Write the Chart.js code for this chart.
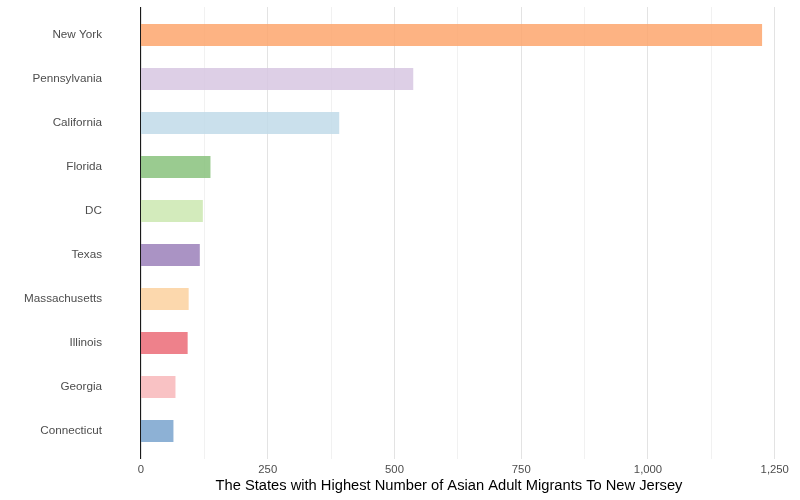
<!DOCTYPE html>
<html>
<head>
<meta charset="utf-8">
<script src="https://cdn.jsdelivr.net/npm/chart.js@4"></script>
<style>
  html, body { margin: 0; padding: 0; background: #ffffff; }
  #wrap { width: 800px; height: 500px; position: relative; }
</style>
</head>
<body>
<div id="wrap"><canvas id="c"></canvas></div>
<script>
const states = ["New York", "Pennsylvania", "California", "Florida", "DC", "Texas", "Massachusetts", "Illinois", "Georgia", "Connecticut"];
const migrants = [1225, 537, 391, 137, 122, 116, 94, 92, 68, 64];
const barColors = [
  "rgba(253,166,109,0.85)",
  "rgba(215,199,226,0.85)",
  "rgba(193,219,233,0.85)",
  "rgba(136,194,125,0.85)",
  "rgba(203,231,176,0.85)",
  "rgba(155,128,186,0.85)",
  "rgba(252,209,159,0.85)",
  "rgba(235,107,119,0.85)",
  "rgba(248,183,186,0.85)",
  "rgba(121,163,206,0.85)"
];
const xTitle = "The States with Highest Number of Asian Adult Migrants To New Jersey";

const MAJOR = '#e3e3e3', MINOR = '#f1f1f1';
const gridColor = (v) => (v % 250 === 0 ? MAJOR : MINOR);

// the panel (grid lines + y axis line) is drawn over the full panel height, like ggplot's expanded panel
const panelPlugin = {
  id: 'panelExt',
  beforeDatasetsDraw(chart) {
    const ctx = chart.ctx, ca = chart.chartArea, xs = chart.scales.x;
    const ext = 6;
    const dpr = chart.currentDevicePixelRatio || 1;
    ctx.save();
    ctx.lineWidth = 1;
    xs.ticks.forEach(t => {
      const p = xs.getPixelForValue(t.value);
      const px = Math.round((p - 0.5) * dpr) / dpr + 0.5;
      ctx.strokeStyle = gridColor(t.value);
      ctx.beginPath();
      ctx.moveTo(px, ca.top - ext); ctx.lineTo(px, ca.bottom + ext);
      ctx.stroke();
    });
    ctx.restore();
  },
  afterDatasetsDraw(chart) {
    const ctx = chart.ctx, ca = chart.chartArea, xs = chart.scales.x;
    const ext = 6;
    const px = Math.round(xs.getPixelForValue(0)) - 0.5;
    ctx.save();
    ctx.strokeStyle = '#1a1a1a';
    ctx.lineWidth = 1;
    ctx.beginPath();
    ctx.moveTo(px, ca.top - ext); ctx.lineTo(px, ca.bottom + ext);
    ctx.stroke();
    ctx.restore();
  },
  afterDraw(chart) {
    const ctx = chart.ctx;
    ctx.save();
    ctx.font = '14.7px "Liberation Sans", Arial, sans-serif';
    ctx.fillStyle = '#000000';
    ctx.textAlign = 'center';
    ctx.textBaseline = 'middle';
    ctx.fillText(xTitle, 449, 486);
    ctx.restore();
  }
};

new Chart(document.getElementById('c'), {
  type: 'bar',
  data: {
    labels: states,
    datasets: [{
      data: migrants,
      backgroundColor: barColors,
      borderWidth: 0,
      barPercentage: 0.5,
      categoryPercentage: 1.0
    }]
  },
  options: {
    indexAxis: 'y',
    responsive: true,
    maintainAspectRatio: false,
    animation: false,
    layout: { padding: { top: 13, right: 7, bottom: 0, left: 0 } },
    plugins: {
      legend: { display: false },
      tooltip: { enabled: false }
    },
    scales: {
      x: {
        type: 'linear',
        min: 0,
        max: 1286,
        afterFit(scale) { scale.height = 47; scale.paddingLeft = 0; scale.paddingRight = 0; },
        afterBuildTicks(scale) {
          scale.ticks = scale.ticks.filter(t => t.value % 125 === 0);
        },
        ticks: {
          stepSize: 125,
          includeBounds: false,
          maxTicksLimit: 100,
          autoSkip: false,
          maxRotation: 0,
          padding: 10,
          color: '#4d4d4d',
          font: { family: '"Liberation Sans", Arial, sans-serif', size: 11.3 },
          callback: (v) => (v % 250 === 0 ? Number(v).toLocaleString('en-US') : '')
        },
        grid: { display: false, drawTicks: false },
        border: { display: false }
      },
      y: {
        afterFit(scale) { scale.width = 141; scale.paddingTop = 0; scale.paddingBottom = 0; },
        ticks: {
          padding: 39,
          color: '#4d4d4d',
          font: { family: '"Liberation Sans", Arial, sans-serif', size: 11.7 }
        },
        grid: { display: false, drawTicks: false },
        border: { display: false }
      }
    }
  },
  plugins: [panelPlugin]
});
</script>
</body>
</html>
